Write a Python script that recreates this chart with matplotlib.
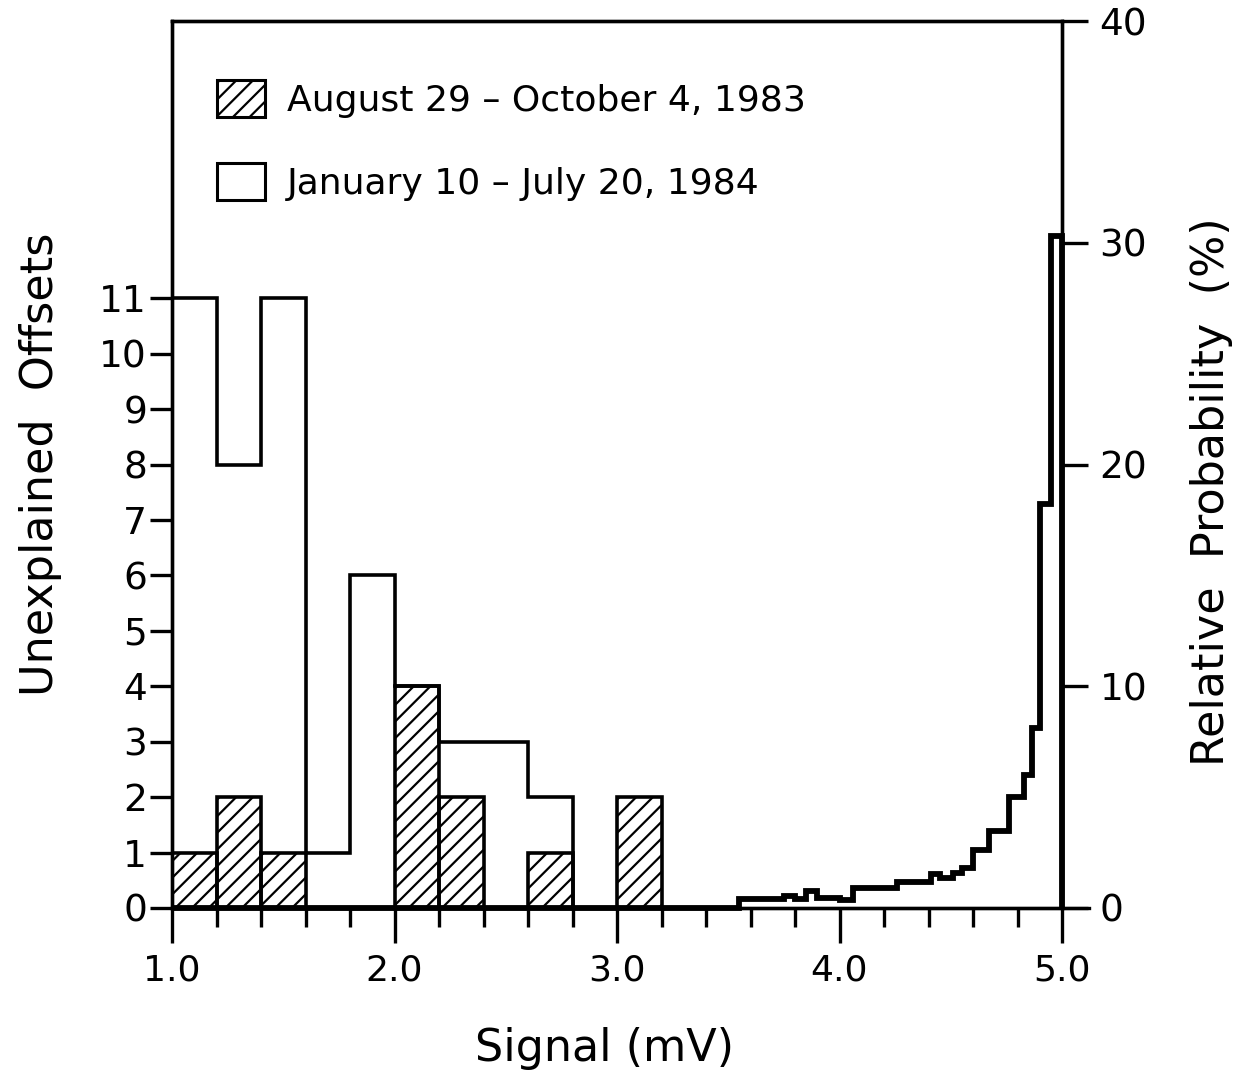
import matplotlib
matplotlib.use("Agg")
import matplotlib.pyplot as plt
from matplotlib.patches import Patch
from matplotlib.ticker import MultipleLocator, FixedLocator

# Histogram of unexplained offsets, 0.2 mV bins
bin_edges = [1.0, 1.2, 1.4, 1.6, 1.8, 2.0, 2.2, 2.4, 2.6, 2.8, 3.0, 3.2]
counts_1983 = [1, 2, 1, 0, 0, 4, 2, 0, 1, 0, 2]
counts_1984 = [11, 8, 11, 1, 6, 4, 3, 3, 2, 0, 0]

# Relative probability (%) of the signal
prob_edges = [1.0, 3.55, 3.75, 3.80, 3.85, 3.90, 4.00, 4.06, 4.26, 4.41,
              4.45, 4.51, 4.55, 4.60, 4.67, 4.76, 4.83, 4.865, 4.90, 4.95, 5.0]
prob_values = [0, 0.4, 0.55, 0.4, 0.75, 0.45, 0.35, 0.9, 1.15, 1.55,
               1.35, 1.6, 1.8, 2.6, 3.45, 5.0, 6.0, 8.1, 18.2, 30.3]

legend_labels = ["August 29 – October 4, 1983", "January 10 – July 20, 1984"]
x_ticks = [1.0, 2.0, 3.0, 4.0, 5.0]
x_ticklabels = ["1.0", "2.0", "3.0", "4.0", "5.0"]
left_ticks = list(range(0, 12))
right_ticks = [0, 10, 20, 30, 40]

plt.rcParams["font.family"] = ["DejaVu Sans"]
plt.rcParams["hatch.linewidth"] = 1.6

W, H = 1248, 1092
fig = plt.figure(figsize=(W / 100, H / 100), dpi=100)
ax = fig.add_axes([172 / W, 1 - 908 / H, 890 / W, 887 / H])
ax2 = ax.twinx()

LW = 2.6

# hatched 1983 bars
ax.bar(bin_edges[:-1], counts_1983, width=0.2, align="edge",
       facecolor="none", edgecolor="black", hatch="//", linewidth=LW,
       zorder=3)
# open 1984 histogram outline
ax.stairs(counts_1984, bin_edges, baseline=0, color="black",
          linewidth=LW, zorder=4)

# relative probability step curve
ax2.stairs(prob_values, prob_edges, baseline=0, color="black",
           linewidth=4.2, zorder=5, clip_on=False)

ax.set_xlim(1.0, 5.0)
ax.set_ylim(0, 16)
ax2.set_ylim(0, 40)

for a in (ax, ax2):
    for s in a.spines.values():
        s.set_linewidth(2.4)
ax.spines["bottom"].set_bounds(1.0, 5.12)

ax.xaxis.set_major_locator(FixedLocator(x_ticks))
ax.set_xticklabels(x_ticklabels)
ax.xaxis.set_minor_locator(MultipleLocator(0.2))
ax.tick_params(axis="x", which="major", direction="out", length=25,
               width=2.4, labelsize=26, pad=8)
ax.tick_params(axis="x", which="minor", direction="out", length=14,
               width=2.4)

ax.yaxis.set_major_locator(FixedLocator(left_ticks))
ax.tick_params(axis="y", direction="out", length=16, width=2.4,
               labelsize=27, pad=2)
ax2.yaxis.set_major_locator(FixedLocator(right_ticks))
ax2.tick_params(axis="y", direction="out", length=19, width=2.4,
                labelsize=27, pad=8)

ax.set_xlabel("Signal (mV)", fontsize=32, va="center")
ax.xaxis.set_label_coords(0.4865, -0.158)
ax.set_ylabel("Unexplained  Offsets", fontsize=32, va="center")
ax.yaxis.set_label_coords(-0.148, 0.5)
ax2.set_ylabel("Relative  Probability  (%)", fontsize=32, va="center",
               rotation=90)
ax2.yaxis.set_label_coords(1.1685, 0.469)

handles = [
    Patch(facecolor="white", edgecolor="black", hatch="//", linewidth=2.2),
    Patch(facecolor="white", edgecolor="black", linewidth=2.2),
]
fig.legend(handles, legend_labels, loc="upper left",
           bbox_to_anchor=(217 / W, 1 - 80 / H), frameon=False,
           fontsize=26, handlelength=1.33, handleheight=1.2,
           handletextpad=0.6, labelspacing=1.25, borderpad=0,
           borderaxespad=0)

fig.savefig("out.png", dpi=100)
